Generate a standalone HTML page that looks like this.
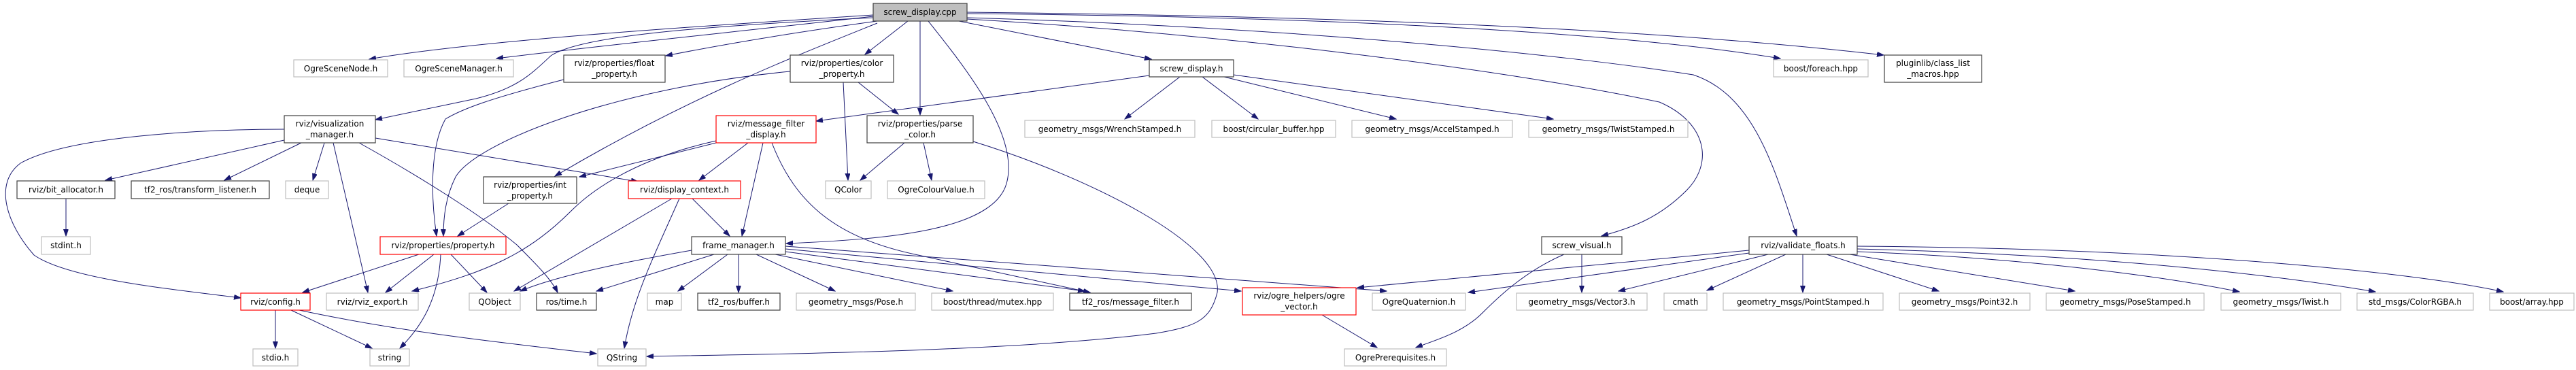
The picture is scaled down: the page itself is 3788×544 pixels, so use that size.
<!DOCTYPE html>
<html><head><meta charset="utf-8"><style>
html,body{margin:0;padding:0;background:#fff;}
svg{display:block;}
text{font-family:"DejaVu Sans","Liberation Sans",sans-serif;font-size:12px;fill:#000;text-anchor:middle;}
.n rect{fill:#fff;stroke:#404040;stroke-width:1.2;}
.g rect{fill:#fff;stroke:#bfbfbf;stroke-width:1.2;}
.r rect{fill:#fff;stroke:#ff0000;stroke-width:1.2;}
.e path{fill:none;stroke:#191970;stroke-width:1;marker-end:url(#a);}
</style></head><body>
<svg width="3788" height="544" viewBox="0 0 3788 544" xmlns="http://www.w3.org/2000/svg">
<defs><marker id="a" markerUnits="userSpaceOnUse" markerWidth="11" markerHeight="8" refX="10" refY="3.5" orient="auto"><path d="M0,0 L10,3.5 L0,7 z" fill="#191970" stroke="#191970"/></marker></defs>
<g class="e">
<path d="M1284,22 C1000,40 700,60 543,87"/>
<path d="M1284,24 C1100,45 900,65 730,86"/>
<path d="M1290,31 C1150,50 1050,68 979,82"/>
<path d="M1335,31 L1272,80"/>
<path d="M1353,31 L1353,169"/>
<path d="M1410,31 L1693,87"/>
<path d="M1284,26 C1000,40 850,55 810,82 C780,110 760,130 700,145 L552,176"/>
<path d="M1290,34 C1150,90 1000,150 816,259"/>
<path d="M1365,31 C1420,100 1500,200 1480,270 C1460,340 1300,352 1156,358"/>
<path d="M1422,20 C2000,25 2400,50 2618,86"/>
<path d="M1422,18 C2100,25 2500,50 2770,81"/>
<path d="M1422,28 C1800,50 2200,100 2440,150 C2510,180 2520,240 2480,280 C2440,320 2400,335 2355,347"/>
<path d="M1422,26 C1900,40 2300,80 2490,110 C2580,140 2610,250 2642,347"/>
<path d="M1690,111 L1200,178"/>
<path d="M1735,113 L1654,175"/>
<path d="M1768,113 L1850,175"/>
<path d="M1800,113 L2053,175"/>
<path d="M1814,110 L2284,175"/>
<path d="M418,190 C300,190 100,200 30,240 C-10,270 10,330 50,375 C100,410 250,425 354,438"/>
<path d="M418,206 L155,265"/>
<path d="M443,210 L330,265"/>
<path d="M477,210 L460,265"/>
<path d="M490,210 L541,430"/>
<path d="M528,210 C600,250 700,310 760,360 C790,390 810,410 820,430"/>
<path d="M552,203 L938,267"/>
<path d="M97,292 L97,347"/>
<path d="M405,456 L405,512"/>
<path d="M428,456 L547,512"/>
<path d="M440,456 C600,490 750,505 877,520"/>
<path d="M616,374 L445,430"/>
<path d="M638,374 L567,430"/>
<path d="M663,374 L716,430"/>
<path d="M648,374 C645,440 620,480 588,512"/>
<path d="M829,117 C720,145 680,160 655,175 C630,220 635,300 642,347"/>
<path d="M1162,105 C900,130 700,210 670,260 C655,290 652,320 652,347"/>
<path d="M1240,121 L1247,265"/>
<path d="M1262,121 L1321,168"/>
<path d="M1330,210 L1265,265"/>
<path d="M1358,210 L1370,265"/>
<path d="M1431,208 C1600,260 1800,360 1790,430 C1780,470 1760,480 1700,490 C1500,515 1200,520 951,524"/>
<path d="M1053,210 L852,260"/>
<path d="M1100,210 L1028,265"/>
<path d="M1122,210 L1091,347"/>
<path d="M1135,210 C1170,300 1230,350 1350,375 L1603,430"/>
<path d="M1053,207 C950,230 880,270 840,310 C780,370 720,400 606,428"/>
<path d="M748,299 L673,347"/>
<path d="M988,292 L756,428"/>
<path d="M999,292 C960,380 930,440 918,512"/>
<path d="M1018,292 L1073,347"/>
<path d="M1017,368 C920,385 820,405 765,428"/>
<path d="M1050,374 L877,428"/>
<path d="M1070,374 L997,428"/>
<path d="M1086,374 L1086,430"/>
<path d="M1112,374 L1228,428"/>
<path d="M1140,374 L1401,428"/>
<path d="M1155,370 L1595,428"/>
<path d="M1155,366 L1825,428"/>
<path d="M1155,362 L2039,428"/>
<path d="M2326,374 L2326,430"/>
<path d="M2300,374 C2240,400 2200,440 2180,460 C2150,490 2110,500 2082,511"/>
<path d="M1944,463 L2025,511"/>
<path d="M2572,368 L1996,423"/>
<path d="M2572,372 L2159,430"/>
<path d="M2600,374 L2380,428"/>
<path d="M2626,374 L2510,427"/>
<path d="M2651,374 L2651,430"/>
<path d="M2686,374 L2851,428"/>
<path d="M2720,374 L3051,428"/>
<path d="M2731,370 C3000,380 3200,410 3293,429"/>
<path d="M2731,366 C3100,375 3350,405 3493,429"/>
<path d="M2731,362 C3200,365 3550,400 3681,429"/>
</g>

<g class="n"><rect x="1284" y="5" width="138" height="26" style="fill:#bfbfbf"/><text x="1353" y="22">screw_display.cpp</text></g>
<g class="g"><rect x="432" y="88" width="138" height="25"/><text x="501" y="105">OgreSceneNode.h</text></g>
<g class="g"><rect x="594" y="88" width="161" height="25"/><text x="674.5" y="105">OgreSceneManager.h</text></g>
<g class="n"><rect x="829" y="81" width="149" height="40"/><text x="903.5" y="97">rviz/properties/float</text><text x="903.5" y="113">_property.h</text></g>
<g class="n"><rect x="1162" y="81" width="152" height="40"/><text x="1238" y="97">rviz/properties/color</text><text x="1238" y="113">_property.h</text></g>
<g class="n"><rect x="1690" y="88" width="124" height="25"/><text x="1752" y="105">screw_display.h</text></g>
<g class="g"><rect x="2608" y="88" width="139" height="25"/><text x="2677.5" y="105">boost/foreach.hpp</text></g>
<g class="n"><rect x="2771" y="81" width="143" height="40"/><text x="2842.5" y="97">pluginlib/class_list</text><text x="2842.5" y="113">_macros.hpp</text></g>
<g class="n"><rect x="418" y="170" width="134" height="40"/><text x="485" y="186">rviz/visualization</text><text x="485" y="202">_manager.h</text></g>
<g class="r"><rect x="1053" y="170" width="147" height="40"/><text x="1126.5" y="186">rviz/message_filter</text><text x="1126.5" y="202">_display.h</text></g>
<g class="n"><rect x="1275" y="170" width="156" height="40"/><text x="1353" y="186">rviz/properties/parse</text><text x="1353" y="202">_color.h</text></g>
<g class="g"><rect x="1507" y="177" width="250" height="25"/><text x="1632" y="194">geometry_msgs/WrenchStamped.h</text></g>
<g class="g"><rect x="1782" y="177" width="182" height="25"/><text x="1873" y="194">boost/circular_buffer.hpp</text></g>
<g class="g"><rect x="1988" y="177" width="236" height="25"/><text x="2106" y="194">geometry_msgs/AccelStamped.h</text></g>
<g class="g"><rect x="2248" y="177" width="234" height="25"/><text x="2365" y="194">geometry_msgs/TwistStamped.h</text></g>
<g class="n"><rect x="25" y="266" width="144" height="26"/><text x="97" y="283">rviz/bit_allocator.h</text></g>
<g class="n"><rect x="193" y="266" width="203" height="26"/><text x="294.5" y="283">tf2_ros/transform_listener.h</text></g>
<g class="g"><rect x="420" y="266" width="63" height="26"/><text x="451.5" y="283">deque</text></g>
<g class="n"><rect x="711" y="260" width="137" height="39"/><text x="779.5" y="276">rviz/properties/int</text><text x="779.5" y="292">_property.h</text></g>
<g class="r"><rect x="924" y="266" width="165" height="26"/><text x="1006.5" y="283">rviz/display_context.h</text></g>
<g class="g"><rect x="1214" y="266" width="67" height="26"/><text x="1247.5" y="283">QColor</text></g>
<g class="g"><rect x="1305" y="266" width="143" height="26"/><text x="1376.5" y="283">OgreColourValue.h</text></g>
<g class="g"><rect x="61" y="348" width="72" height="26"/><text x="97" y="365">stdint.h</text></g>
<g class="r"><rect x="559" y="348" width="185" height="26"/><text x="651.5" y="365">rviz/properties/property.h</text></g>
<g class="n"><rect x="1017" y="348" width="138" height="26"/><text x="1086" y="365">frame_manager.h</text></g>
<g class="n"><rect x="2267" y="348" width="118" height="26"/><text x="2326" y="365">screw_visual.h</text></g>
<g class="n"><rect x="2572" y="348" width="159" height="26"/><text x="2651.5" y="365">rviz/validate_floats.h</text></g>
<g class="r"><rect x="354" y="431" width="102" height="25"/><text x="405" y="448">rviz/config.h</text></g>
<g class="g"><rect x="480" y="431" width="135" height="25"/><text x="547.5" y="448">rviz/rviz_export.h</text></g>
<g class="g"><rect x="690" y="431" width="75" height="25"/><text x="727.5" y="448">QObject</text></g>
<g class="n"><rect x="789" y="431" width="88" height="25"/><text x="833" y="448">ros/time.h</text></g>
<g class="g"><rect x="952" y="431" width="50" height="25"/><text x="977" y="448">map</text></g>
<g class="n"><rect x="1026" y="431" width="121" height="25"/><text x="1086.5" y="448">tf2_ros/buffer.h</text></g>
<g class="g"><rect x="1171" y="431" width="175" height="25"/><text x="1258.5" y="448">geometry_msgs/Pose.h</text></g>
<g class="g"><rect x="1370" y="431" width="179" height="25"/><text x="1459.5" y="448">boost/thread/mutex.hpp</text></g>
<g class="n"><rect x="1573" y="431" width="179" height="25"/><text x="1662.5" y="448">tf2_ros/message_filter.h</text></g>
<g class="r"><rect x="1827" y="423" width="167" height="40"/><text x="1910.5" y="439">rviz/ogre_helpers/ogre</text><text x="1910.5" y="455">_vector.h</text></g>
<g class="g"><rect x="2018" y="431" width="137" height="25"/><text x="2086.5" y="448">OgreQuaternion.h</text></g>
<g class="g"><rect x="2230" y="431" width="192" height="25"/><text x="2326" y="448">geometry_msgs/Vector3.h</text></g>
<g class="g"><rect x="2447" y="431" width="63" height="25"/><text x="2478.5" y="448">cmath</text></g>
<g class="g"><rect x="2534" y="431" width="235" height="25"/><text x="2651.5" y="448">geometry_msgs/PointStamped.h</text></g>
<g class="g"><rect x="2793" y="431" width="192" height="25"/><text x="2889" y="448">geometry_msgs/Point32.h</text></g>
<g class="g"><rect x="3009" y="431" width="232" height="25"/><text x="3125" y="448">geometry_msgs/PoseStamped.h</text></g>
<g class="g"><rect x="3266" y="431" width="176" height="25"/><text x="3354" y="448">geometry_msgs/Twist.h</text></g>
<g class="g"><rect x="3466" y="431" width="171" height="25"/><text x="3551.5" y="448">std_msgs/ColorRGBA.h</text></g>
<g class="g"><rect x="3661" y="431" width="124" height="25"/><text x="3723" y="448">boost/array.hpp</text></g>
<g class="g"><rect x="372" y="513" width="66" height="25"/><text x="405" y="530">stdio.h</text></g>
<g class="g"><rect x="544" y="513" width="58" height="25"/><text x="573" y="530">string</text></g>
<g class="g"><rect x="879" y="513" width="71" height="25"/><text x="914.5" y="530">QString</text></g>
<g class="g"><rect x="1977" y="513" width="150" height="25"/><text x="2052" y="530">OgrePrerequisites.h</text></g>
</svg>
</body></html>
